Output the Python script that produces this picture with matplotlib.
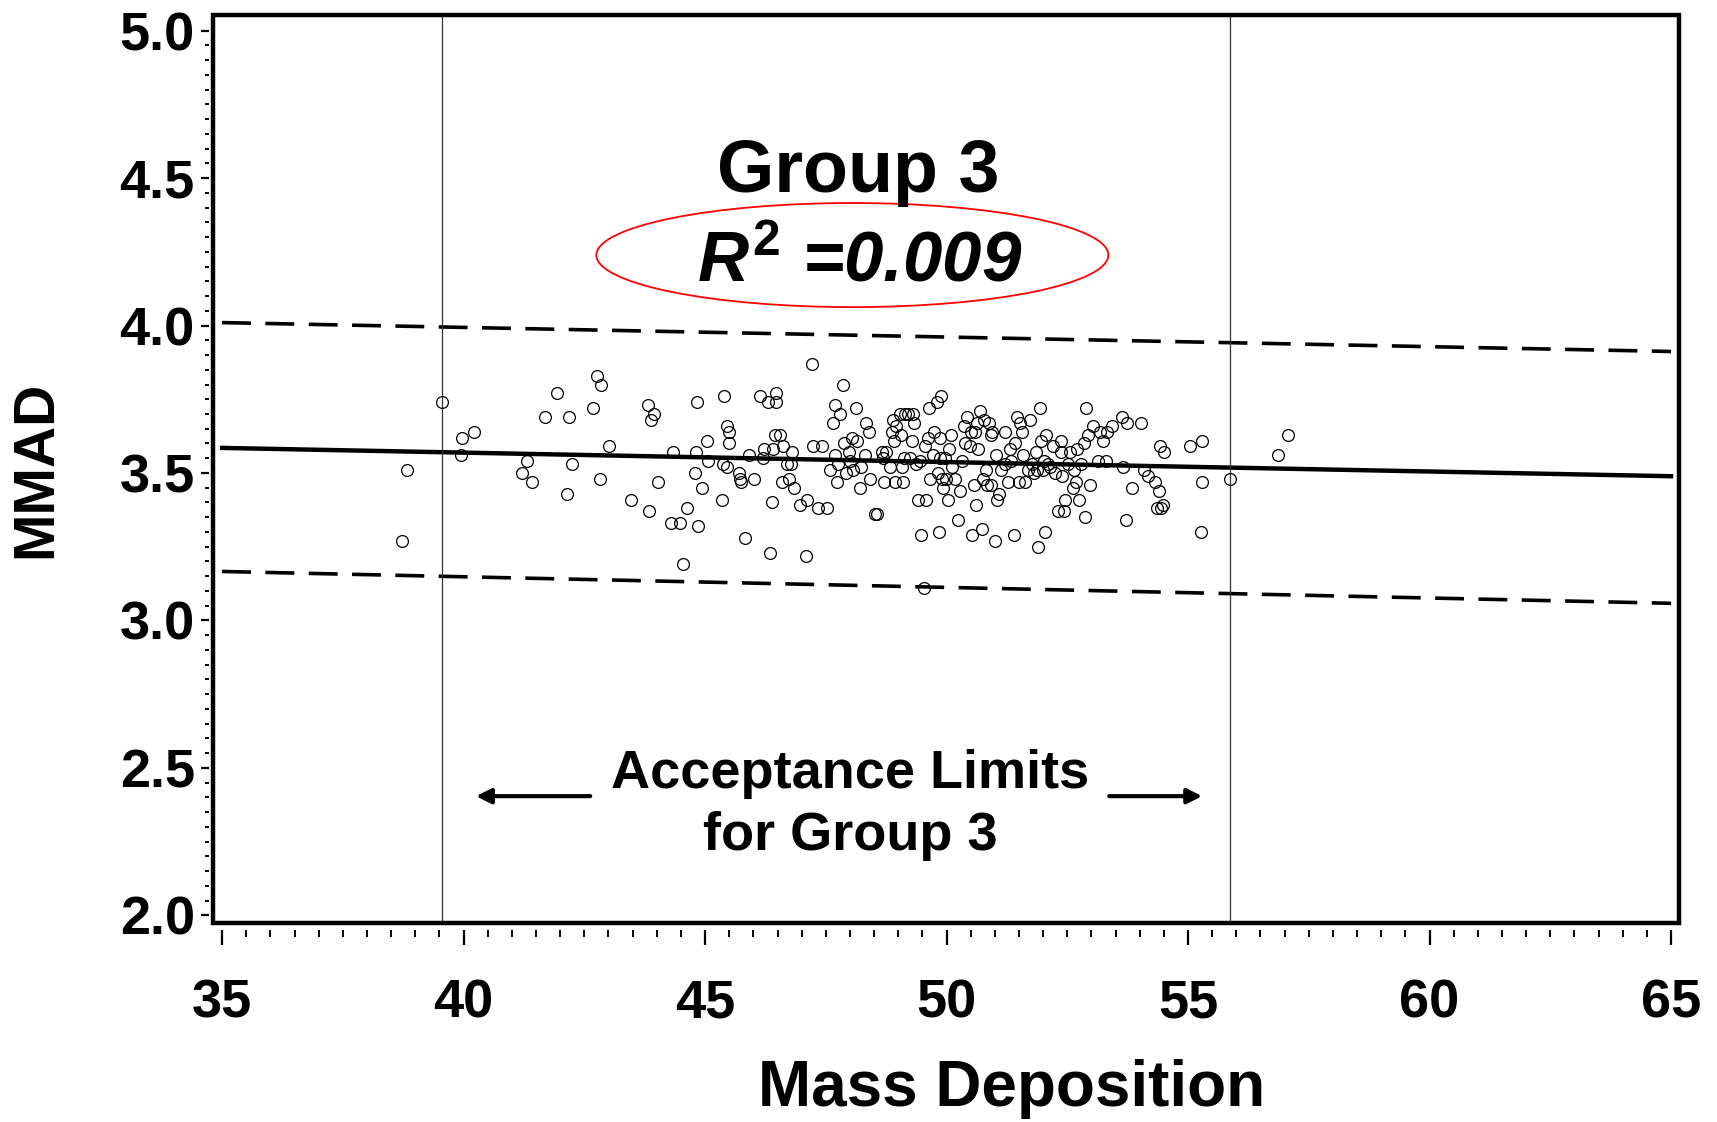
import matplotlib
matplotlib.use("Agg")
import matplotlib.pyplot as plt
from matplotlib.patches import Ellipse, Rectangle

# Scatter data (Mass Deposition, MMAD)
mass = [38.72, 38.83, 39.55, 39.94, 39.97, 40.21, 41.21, 41.32, 41.41, 41.68,
        41.93, 42.14, 42.18, 42.25, 42.68, 42.77, 42.84, 42.82, 43.02, 43.47,
        43.84, 43.82, 43.88, 43.95, 44.02, 44.29, 44.33, 44.49, 44.54, 44.63,
        44.79, 44.81, 44.83, 44.86, 44.93, 45.04, 45.06, 45.36, 45.38, 45.40,
        45.45, 45.49, 45.49, 45.45, 45.70, 45.72, 45.74, 45.83, 45.92, 46.01,
        46.13, 46.19, 46.21, 46.31, 46.35, 46.38, 46.40, 46.44, 46.47, 46.47,
        46.56, 46.60, 46.62, 46.69, 46.74, 46.78, 46.81, 46.85, 46.96, 47.08,
        47.12, 47.21, 47.24, 47.33, 47.42, 47.53, 47.58, 47.64, 47.69, 47.69,
        47.74, 47.76, 47.80, 47.85, 47.87, 47.92, 47.98, 48.01, 48.05, 48.07,
        48.12, 48.14, 48.21, 48.23, 48.32, 48.34, 48.39, 48.41, 48.51, 48.55,
        48.66, 48.69, 48.71, 48.75, 48.82, 48.87, 48.89, 48.91, 48.94, 48.96,
        49.03, 49.05, 49.07, 49.09, 49.12, 49.14, 49.21, 49.25, 49.28, 49.30,
        49.32, 49.37, 49.41, 49.46, 49.48, 49.53, 49.55, 49.57, 49.62, 49.64,
        49.66, 49.71, 49.75, 49.80, 49.82, 49.84, 49.86, 49.86, 49.89, 49.91,
        49.93, 49.96, 49.98, 50.02, 50.05, 50.09, 50.11, 50.18, 50.23, 50.27,
        50.32, 50.36, 50.39, 50.43, 50.48, 50.50, 50.52, 50.57, 50.59, 50.62,
        50.64, 50.66, 50.70, 50.73, 50.75, 50.77, 50.82, 50.84, 50.88, 50.91,
        50.93, 50.95, 51.00, 51.02, 51.04, 51.09, 51.13, 51.20, 51.22, 51.27,
        51.32, 51.34, 51.39, 51.41, 51.45, 51.50, 51.52, 51.56, 51.59, 51.63,
        51.68, 51.73, 51.77, 51.81, 51.86, 51.88, 51.90, 51.93, 51.95, 51.99,
        52.02, 52.04, 52.06, 52.11, 52.15, 52.20, 52.24, 52.31, 52.36, 52.38,
        52.40, 52.43, 52.45, 52.52, 52.56, 52.61, 52.63, 52.68, 52.70, 52.74,
        52.79, 52.84, 52.86, 52.88, 52.92, 52.97, 53.04, 53.13, 53.17, 53.24,
        53.31, 53.33, 53.42, 53.63, 53.65, 53.72, 53.74, 53.83, 54.03, 54.08,
        54.17, 54.31, 54.35, 54.40, 54.42, 54.44, 54.49, 54.51, 55.05, 55.28,
        55.28, 55.26, 55.87, 56.87, 57.07]
mmad = [3.27, 3.51, 3.74, 3.56, 3.62, 3.64, 3.50, 3.54, 3.47, 3.69,
        3.77, 3.43, 3.69, 3.53, 3.72, 3.83, 3.80, 3.48, 3.59, 3.41,
        3.37, 3.73, 3.68, 3.70, 3.47, 3.33, 3.57, 3.33, 3.19, 3.38,
        3.50, 3.57, 3.74, 3.32, 3.45, 3.61, 3.54, 3.41, 3.53, 3.76,
        3.66, 3.60, 3.64, 3.52, 3.50, 3.48, 3.47, 3.28, 3.56, 3.48,
        3.76, 3.55, 3.58, 3.74, 3.23, 3.40, 3.58, 3.63, 3.74, 3.77,
        3.63, 3.47, 3.59, 3.53, 3.48, 3.53, 3.57, 3.45, 3.39, 3.22,
        3.41, 3.87, 3.59, 3.38, 3.59, 3.38, 3.51, 3.67, 3.73, 3.56,
        3.47, 3.53, 3.70, 3.80, 3.60, 3.50, 3.57, 3.54, 3.62, 3.51,
        3.72, 3.61, 3.45, 3.52, 3.56, 3.67, 3.64, 3.48, 3.36, 3.36,
        3.57, 3.55, 3.47, 3.57, 3.52, 3.64, 3.68, 3.61, 3.47, 3.66,
        3.70, 3.63, 3.52, 3.47, 3.55, 3.70, 3.70, 3.55, 3.61, 3.70,
        3.67, 3.53, 3.41, 3.54, 3.29, 3.11, 3.59, 3.41, 3.62, 3.72,
        3.48, 3.56, 3.64, 3.74, 3.50, 3.30, 3.62, 3.55, 3.76, 3.48,
        3.45, 3.55, 3.48, 3.41, 3.58, 3.63, 3.52, 3.48, 3.34, 3.44,
        3.54, 3.66, 3.60, 3.69, 3.59, 3.64, 3.29, 3.46, 3.64, 3.39,
        3.67, 3.58, 3.71, 3.31, 3.48, 3.68, 3.51, 3.46, 3.67, 3.46,
        3.63, 3.64, 3.27, 3.56, 3.41, 3.43, 3.51, 3.53, 3.64, 3.47,
        3.58, 3.54, 3.29, 3.60, 3.69, 3.47, 3.67, 3.64, 3.56, 3.47,
        3.51, 3.68, 3.53, 3.50, 3.57, 3.51, 3.25, 3.72, 3.61, 3.51,
        3.54, 3.30, 3.63, 3.53, 3.52, 3.59, 3.50, 3.37, 3.61, 3.57,
        3.49, 3.37, 3.41, 3.53, 3.57, 3.45, 3.51, 3.47, 3.58, 3.41,
        3.53, 3.60, 3.35, 3.72, 3.63, 3.46, 3.66, 3.54, 3.64, 3.61,
        3.54, 3.64, 3.66, 3.69, 3.52, 3.34, 3.67, 3.45, 3.67, 3.51,
        3.49, 3.47, 3.38, 3.44, 3.59, 3.38, 3.39, 3.57, 3.59, 3.61,
        3.47, 3.30, 3.48, 3.56, 3.63]

# Regression line and prediction limits (end points)
line_x = [35, 65]
fit_y = [3.585, 3.489]
upper_y = [4.01, 3.912]
lower_y = [3.166, 3.058]

# Acceptance limits for group 3
accept_lo = 39.55
accept_hi = 55.87

xticks = [35, 40, 45, 50, 55, 60, 65]
yticks = [2.0, 2.5, 3.0, 3.5, 4.0, 4.5, 5.0]

plt.rcParams['font.family'] = ['Liberation Sans', 'DejaVu Sans']
plt.rcParams['font.weight'] = 'bold'
plt.rcParams['mathtext.fontset'] = 'custom'
plt.rcParams['mathtext.it'] = 'Liberation Sans:italic:bold'
plt.rcParams['mathtext.rm'] = 'Liberation Sans:bold'

fig = plt.figure(figsize=(17.17, 11.22), dpi=100)
ax = fig.add_axes([0.124, 0.1774, 0.854, 0.8092])

ax.plot(line_x, fit_y, color='black', lw=3.2)
ax.plot(line_x, upper_y, color='black', lw=2.6, linestyle=(0, (8, 4)))
ax.plot(line_x, lower_y, color='black', lw=2.6, linestyle=(0, (8, 4)))
ax.axvline(accept_lo, color='#333333', lw=0.9)
ax.axvline(accept_hi, color='#333333', lw=0.9)

ax.plot(mass, mmad, linestyle='none', marker='o', markersize=8.5,
        markerfacecolor='none', markeredgecolor='black', markeredgewidth=0.9)

ax.set_xlim(34.81, 65.17)
ax.set_ylim(1.974, 5.053)
ax.set_xticks(xticks)
ax.set_xticklabels([str(v) for v in xticks])
ax.set_yticks(yticks)
ax.set_yticklabels([f"{v:.1f}" for v in yticks])
ax.set_xticks([35 + 0.5 * i for i in range(61)], minor=True)
ax.set_yticks([2.0 + 0.05 * i for i in range(61)], minor=True)

for side in ['top', 'right', 'bottom', 'left']:
    ax.spines[side].set_visible(False)
ax.spines['bottom'].set_position(('outward', 5))
ax.spines['left'].set_position(('outward', 3))
ax.add_patch(Rectangle((0, 0), 1, 1, transform=ax.transAxes, fill=False,
                       lw=3.2, edgecolor='black', clip_on=False, zorder=10))

ax.tick_params(axis='x', which='major', length=11, width=1.6, pad=24, labelsize=39)
ax.tick_params(axis='x', which='minor', length=5, width=1.4)
ax.tick_params(axis='y', which='major', length=6, width=1.6, pad=4, labelsize=39)
ax.tick_params(axis='y', which='minor', length=3, width=1.4)

# Annotations
ax.text(48.17, 4.454, "Group 3", fontsize=53, fontweight='bold',
        ha='center', va='baseline')
ax.text(48.2, 4.15, r"$R^2$ =0.009", fontsize=51, fontweight='bold',
        fontstyle='italic', ha='center', va='baseline')
ax.add_patch(Ellipse((48.05, 4.239), 10.6, 0.353, fill=False,
                     edgecolor='red', lw=1.3))

ax.text(48.0, 2.43, "Acceptance Limits", fontsize=39, fontweight='bold',
        ha='center', va='baseline')
ax.text(48.0, 2.22, "for Group 3", fontsize=39, fontweight='bold',
        ha='center', va='baseline')
ax.annotate("", xy=(40.2, 2.404), xytext=(42.68, 2.404),
            arrowprops=dict(arrowstyle='-|>', color='black', lw=3,
                            mutation_scale=22))
ax.annotate("", xy=(55.35, 2.404), xytext=(53.31, 2.404),
            arrowprops=dict(arrowstyle='-|>', color='black', lw=3,
                            mutation_scale=22))

fig.text(0.021, 0.5815, "MMAD", rotation=90, fontsize=41, fontweight='bold',
         ha='center', va='center')
fig.text(0.589, 0.014, "Mass Deposition", fontsize=46, fontweight='bold',
         ha='center', va='baseline')

fig.savefig("out.png", dpi=100)
